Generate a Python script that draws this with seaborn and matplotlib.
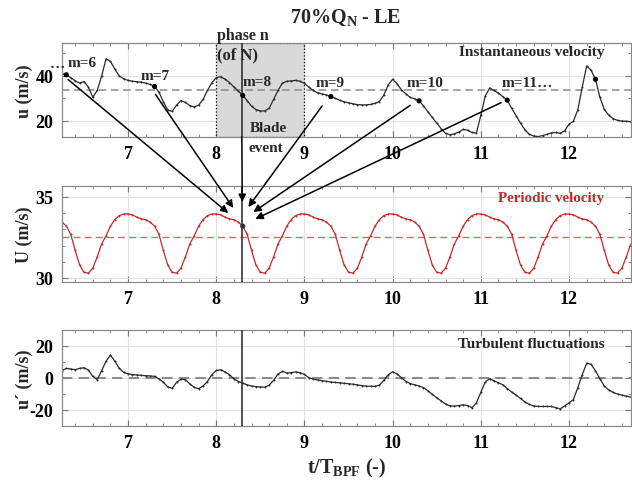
import numpy as np
import pandas as pd
import matplotlib
matplotlib.use("Agg")
import matplotlib.pyplot as plt
import seaborn as sns
from matplotlib.patches import ConnectionPatch
from matplotlib.ticker import MultipleLocator

# time axis t/T_BPF, sampled every 0.05
t = np.round(np.arange(6.25, 12.701, 0.05), 2)

# instantaneous velocity u (m/s)
u = [41.0, 40.5, 39.2, 37.8, 36.8, 37.5, 35.0, 30.5, 33.5, 39.9,
     47.6, 46.5, 43.0, 40.0, 38.7, 38.0, 37.6, 37.4, 37.2, 36.8,
     36.2, 35.3, 32.8, 28.5, 24.8, 24.2, 27.0, 29.0, 28.2, 26.8,
     26.2, 27.0, 29.5, 33.5, 37.0, 39.2, 39.7, 38.5, 37.0, 35.1,
     33.3, 31.3, 29.0, 26.5, 25.0, 24.4, 24.4, 25.6, 29.5, 33.5,
     36.8, 37.6, 37.8, 38.0, 37.6, 36.7, 35.0, 33.5, 32.5, 32.0,
     31.5, 30.8, 30.0, 29.2, 28.5, 28.0, 27.6, 27.2, 27.1, 27.1,
     27.3, 27.8, 28.6, 31.5, 36.0, 38.5, 36.5, 33.8, 32.0, 30.4,
     29.8, 28.9, 26.7, 24.0, 21.5, 19.0, 16.5, 14.4, 13.8, 14.2,
     15.0, 16.2, 15.8, 14.8, 14.5, 22.5, 31.0, 34.6, 33.5, 32.3,
     30.8, 29.2, 25.5, 22.3, 19.0, 16.0, 14.0, 13.2, 13.0, 13.4,
     14.0, 14.6, 14.8, 14.5, 15.5, 18.5, 19.8, 25.0, 35.0, 44.4,
     42.5, 38.5, 30.5, 25.1, 22.5, 21.0, 20.2, 19.9, 19.8, 19.6]

# periodic velocity U, one blade passage (phase 0.00 .. 0.95)
U_cycle = [33.95, 33.9, 33.75, 33.65, 33.6, 33.45, 33.2, 32.7, 31.7, 30.8,
           30.35, 30.3, 30.6, 31.3, 32.1, 32.6, 33.2, 33.6, 33.85, 33.95]
U = U_cycle[5:] + U_cycle * 5 + U_cycle[:15]

# turbulent fluctuations u'
up = [4.6, 6.0, 5.6, 5.2, 6.0, 6.4, 5.0, 1.0, -1.0, 4.5,
      10.5, 14.3, 10.5, 6.0, 3.5, 2.6, 2.1, 1.9, 1.6, 1.4,
      1.3, 1.0, -0.5, -2.7, -5.5, -6.5, -2.7, -0.8, -1.0, -3.7,
      -5.8, -6.8, -5.0, -2.2, 2.0, 4.7, 5.2, 3.8, 2.0, -0.5,
      -2.2, -3.2, -4.3, -5.0, -5.4, -5.6, -5.8, -4.5, -1.5, 2.5,
      4.1, 3.1, 3.3, 3.8, 3.3, 2.2, 0.2, -0.8, -1.2, -1.7,
      -2.1, -2.5, -2.8, -3.0, -3.3, -3.6, -3.9, -4.3, -4.8, -5.1,
      -5.2, -5.2, -4.5, -1.5, 2.0, 3.9, 2.5, 0.2, -2.2, -3.5,
      -4.3, -5.0, -6.0, -8.0, -10.3, -12.3, -14.3, -16.3, -17.4, -17.6,
      -17.2, -16.8, -17.2, -18.6, -15.5, -9.0, -2.5, -0.4, -1.8, -3.0,
      -4.3, -6.6, -8.8, -10.7, -12.8, -15.0, -16.5, -17.5, -17.8, -17.8,
      -17.8, -17.8, -18.5, -19.3, -17.5, -15.5, -13.5, -6.0, 2.0, 9.2,
      8.5, 4.5, -0.5, -5.0, -7.5, -9.0, -10.0, -10.7, -11.3, -12.0]

u_mean = 33.6
U_mean = 32.55
phase_t = 8.29
m_times = [6.3, 7.3, 8.3, 9.3, 10.3, 11.3, 12.3]
m_labels = ["m=6", "m=7", "m=8", "m=9", "m=10", "m=11…"]
m_label_pos = [(6.31, 46.0), (7.14, 40.2), (8.30, 37.6), (9.13, 37.1), (10.16, 37.1), (11.23, 37.1)]
# arrow start on top panel -> arrow tip on the periodic panel
arrow_start = [(6.32, 38.4), (7.31, 31.8), (8.29, 12.8), (9.20, 26.6), (10.20, 26.9), (11.23, 28.1)]
arrow_tip = [(8.136, 34.01), (8.193, 34.32), (8.295, 34.69), (8.364, 34.38), (8.42, 34.07), (8.443, 33.64)]

df = pd.DataFrame({"t": t, "u": u, "U": U, "up": up})
dots = df[df["t"].isin(np.round(m_times, 2))]

sns.set_style("ticks")
plt.rcParams["font.family"] = ["Liberation Serif", "DejaVu Serif"]
plt.rcParams["font.weight"] = "bold"
plt.rcParams["axes.labelweight"] = "bold"
plt.rcParams["axes.unicode_minus"] = False
plt.rcParams["mathtext.fontset"] = "custom"
plt.rcParams["mathtext.rm"] = "Liberation Serif:bold"
plt.rcParams["mathtext.it"] = "Liberation Serif:bold"
plt.rcParams["mathtext.bf"] = "Liberation Serif:bold"

fig = plt.figure(figsize=(6.32, 4.85), dpi=100)
ax1 = fig.add_axes([0.098, 0.7155, 0.900, 0.194])
ax2 = fig.add_axes([0.098, 0.4165, 0.900, 0.198])
ax3 = fig.add_axes([0.098, 0.1196, 0.900, 0.198])

line_kw = dict(lw=0.9, marker="o", markersize=1.4, markeredgewidth=0)
sns.lineplot(data=df, x="t", y="u", ax=ax1, color="#2b2b2b", **line_kw)
sns.lineplot(data=df, x="t", y="U", ax=ax2, color="#c62828", **line_kw)
sns.lineplot(data=df, x="t", y="up", ax=ax3, color="#2b2b2b", **line_kw)

sns.scatterplot(data=dots, x="t", y="u", ax=ax1, color="black", s=14, zorder=5, edgecolor="none")
sns.scatterplot(data=df[df["t"] == 8.3], x="t", y="U", ax=ax2, color="#333333", s=14, zorder=5, edgecolor="none")

ax1.axhline(u_mean, color="#8c8c8c", ls=(0, (5, 3)), lw=1.1, zorder=1)
ax2.axhline(U_mean, color="#d46a6a", ls=(0, (5, 3)), lw=1.0, zorder=1)
ax3.axhline(0, color="#8c8c8c", ls=(0, (5, 3)), lw=1.5, zorder=1)

ax1.axvspan(8, 9, facecolor="#d9d9d9", edgecolor="black", ls=":", lw=0.9, zorder=0.6)

for ax in (ax1, ax2, ax3):
    ax.axvline(phase_t, color="#333333", lw=1.2, zorder=4)
    ax.set_xlim(6.25, 12.7)
    ax.set_xticks([7, 8, 9, 10, 11, 12])
    ax.xaxis.set_minor_locator(MultipleLocator(0.2))
    ax.tick_params(which="both", direction="in", top=True, right=True, colors="#777777",
                   labelcolor="black", labelsize=13)
    ax.tick_params(which="major", length=4, pad=6)
    ax.tick_params(which="minor", length=2.5)
    ax.grid(True, which="major", color="#e2e2e2", lw=0.8)
    ax.set_axisbelow(True)
    for s in ax.spines.values():
        s.set_color("#8a8a8a")
        s.set_linewidth(0.9)
    ax.set_xlabel("")

ax1.set_ylim(12.8, 54.7)
ax1.set_yticks([20, 40])
ax1.yaxis.set_minor_locator(MultipleLocator(10))
ax2.set_ylim(29.75, 35.68)
ax2.set_yticks([30, 35])
ax2.yaxis.set_minor_locator(MultipleLocator(1))
ax3.set_ylim(-30, 30)
ax3.set_yticks([-20, 0, 20])
ax3.yaxis.set_minor_locator(MultipleLocator(10))

ax1.set_ylabel("u (m/s)", fontsize=13)
ax2.set_ylabel("U (m/s)", fontsize=13)
ax3.set_ylabel("u´ (m/s)", fontsize=13)
for ax in (ax1, ax2, ax3):
    ax.yaxis.set_label_coords(-0.05, 0.5)
ax3.set_xlabel(r"t/T$_{\mathrm{BPF}}$ (-)", fontsize=14.5, labelpad=3)

ax1.text(0.954, 0.904, "Instantaneous velocity", transform=ax1.transAxes, ha="right", va="center", fontsize=11)
ax2.text(0.954, 0.875, "Periodic velocity", transform=ax2.transAxes, ha="right", va="center", fontsize=10.8, color="#c62828")
ax3.text(0.954, 0.854, "Turbulent fluctuations", transform=ax3.transAxes, ha="right", va="center", fontsize=11)

for lab, (x, y) in zip(m_labels, m_label_pos):
    ax1.text(x, y, lab, ha="left", va="center", fontsize=11, zorder=6)
fig.text(57 / 632, 1 - 64 / 485, "…", ha="center", va="center", fontsize=11, weight="bold")

ax1.text(8.01, 58.4, "phase n", ha="left", va="center", fontsize=11.5)
ax1.text(8.01, 49.6, "(of N)", ha="left", va="center", fontsize=12, zorder=6)
ax1.text(8.38, 17.1, "Blade", ha="left", va="center", fontsize=11, zorder=6)
ax1.text(8.36, 8.2, "event", ha="left", va="center", fontsize=11)

fig.text(346 / 632, 1 - 18 / 485, r"70%Q$_\mathrm{N}$ - LE", ha="center", va="center", fontsize=14.5, weight="bold")

for a, b in zip(arrow_start, arrow_tip):
    con = ConnectionPatch(xyA=a, coordsA="data", axesA=ax1, xyB=b, coordsB="data", axesB=ax2,
                          arrowstyle="-|>", mutation_scale=11, color="black", lw=1.1)
    fig.add_artist(con)

fig.savefig("out.png", dpi=100)
